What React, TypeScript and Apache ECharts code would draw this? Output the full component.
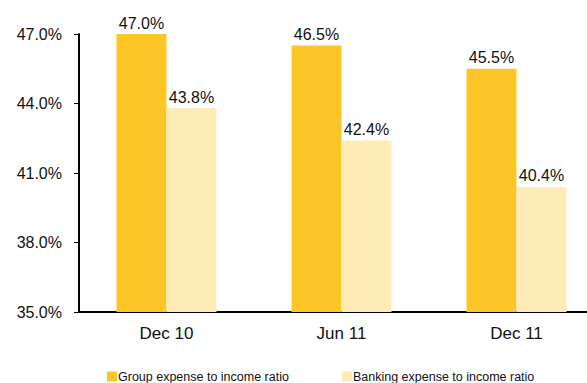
import React, { useEffect, useRef } from "react";
import * as echarts from "echarts";

const categories = ["Dec 10", "Jun 11", "Dec 11"];
const groupRatio = [47.0, 46.5, 45.5];
const bankingRatio = [43.8, 42.4, 40.4];
const seriesNames = ["Group expense to income ratio", "Banking expense to income ratio"];

export default function App() {
  const ref = useRef<HTMLDivElement>(null);
  useEffect(() => {
    document.body.style.margin = "0";
    const chart = echarts.init(ref.current!, null, { renderer: "svg" });
    const font = "'Liberation Sans', Arial, sans-serif";
    const label = {
      show: true,
      position: "top",
      distance: 3,
      fontFamily: font,
      fontSize: 16,
      color: "#111",
      formatter: (p: any) => `${p.value.toFixed(1)}%`,
    };
    chart.setOption({
      animation: false,
      textStyle: { fontFamily: font },
      grid: { left: 79, top: 34, bottom: 71, width: 525, outerBoundsMode: "none", containLabel: false },
      legend: {
        top: 370,
        left: 107,
        padding: 0,
        itemWidth: 10,
        itemHeight: 10,
        itemGap: 53,
        icon: "rect",
        textStyle: {
          fontFamily: font,
          fontSize: 12.5,
          lineHeight: 12,
          color: "#111",
          padding: [0, 0, 0, -4],
        },
        data: seriesNames,
      },
      xAxis: {
        type: "category",
        data: categories,
        axisLine: { lineStyle: { color: "#000", width: 2 } },
        axisTick: { show: false },
        axisLabel: { fontFamily: font, fontSize: 17, color: "#111", margin: 13 },
      },
      yAxis: {
        type: "value",
        min: 35,
        max: 47,
        interval: 3,
        axisLine: { show: true, lineStyle: { color: "#000", width: 2 } },
        axisTick: { show: true, length: 5, lineStyle: { color: "#000", width: 1 } },
        splitLine: { show: false },
        axisLabel: {
          fontFamily: font,
          fontSize: 16,
          color: "#111",
          margin: 17,
          formatter: (v: number) => `${v.toFixed(1)}%`,
        },
      },
      series: [
        {
          name: seriesNames[0],
          type: "bar",
          data: groupRatio,
          barWidth: 50,
          barGap: "0%",
          itemStyle: { color: "#FEC526" },
          label,
        },
        {
          name: seriesNames[1],
          type: "bar",
          data: bankingRatio,
          barWidth: 50,
          barGap: "0%",
          itemStyle: { color: "#FFEBB6" },
          label,
        },
      ],
    });
    return () => chart.dispose();
  }, []);
  return <div ref={ref} style={{ width: 587, height: 383 }} />;
}
